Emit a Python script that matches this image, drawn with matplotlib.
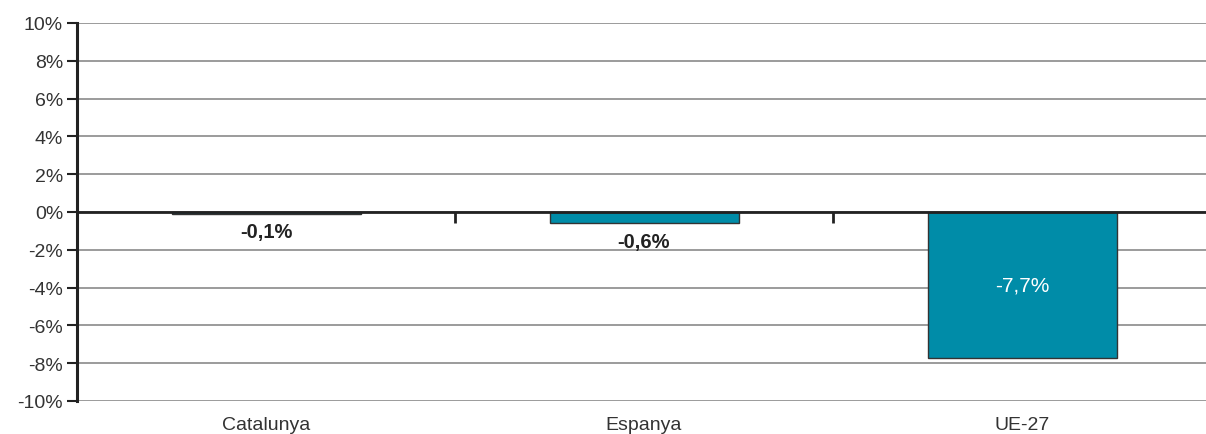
import matplotlib
matplotlib.use("Agg")
import matplotlib.pyplot as plt
from matplotlib.ticker import FuncFormatter

categories = ["Catalunya", "Espanya", "UE-27"]
values = [-0.1, -0.6, -7.7]
value_labels = ["-0,1%", "-0,6%", "-7,7%"]
yticks = [-10, -8, -6, -4, -2, 0, 2, 4, 6, 8, 10]

plt.rcParams['font.family'] = ['Liberation Sans', 'DejaVu Sans']

fig = plt.figure(figsize=(12.06, 4.35), dpi=100)
ax = fig.add_axes([77/1206, 33/435, 1134/1206, 378/435])

bar_color = "#008CA8"
x = list(range(len(categories)))
ax.bar(x, values, width=0.5, color=bar_color, edgecolor="#333333", linewidth=1.0, zorder=3)

ax.set_xlim(-0.5, 2.5)
ax.set_ylim(-10, 10)
ax.set_yticks(yticks)
ax.yaxis.set_major_formatter(FuncFormatter(lambda v, p: f"{int(v)}%"))
ax.yaxis.grid(True, color="#8a8a8a", linewidth=1.2, zorder=0)
ax.set_axisbelow(True)
ax.axhline(0, color="#222222", linewidth=2.0, zorder=4)

for s in ["top", "right", "bottom"]:
    ax.spines[s].set_visible(False)
ax.spines["left"].set_color("#222222")
ax.spines["left"].set_linewidth(2.2)
ax.tick_params(axis="y", length=7, width=1.5, color="#222222", labelsize=14, labelcolor="#333333", pad=3)

ax.set_xticks(x)
ax.set_xticklabels(categories)
ax.tick_params(axis="x", length=0, labelsize=14, labelcolor="#333333", pad=11)

sec = ax.secondary_xaxis(0.5)
sec.xaxis.set_ticks_position("bottom")
sec.set_xticks([0.5, 1.5])
sec.set_xticklabels(["", ""])
for s in sec.spines.values():
    s.set_visible(False)
sec.tick_params(axis="x", which="both", length=8, width=2, color="#222222", direction="out",
                bottom=True, top=False)

for xi, v, lab in zip(x, values, value_labels):
    if v < -3:
        ax.text(xi, v / 2, lab, ha="center", va="center", color="white", fontsize=15, zorder=5)
    else:
        ax.text(xi, v - 0.45, lab, ha="center", va="top", color="#222222", fontsize=14.5, fontweight="bold", zorder=5)

fig.savefig("out.png", dpi=100)
